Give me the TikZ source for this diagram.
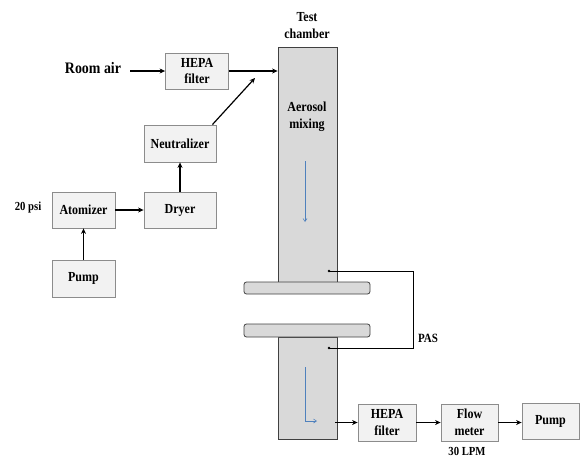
\documentclass[tikz,border=0pt]{standalone}
\usepackage{fontspec}
\newfontfamily\tb[FakeStretch=0.87]{Liberation Serif}
\usetikzlibrary{arrows.meta}
\definecolor{boxfill}{HTML}{F2F2F2}
\definecolor{boxline}{HTML}{8C8C8C}
\definecolor{chfill}{HTML}{D9D9D9}
\definecolor{chline}{HTML}{404040}
\definecolor{flowblue}{HTML}{4F81BD}
\tikzset{
  lbl/.style={font=\tb\bfseries\fontsize{13.8}{16.5}\selectfont, align=center, inner sep=0pt},
  smalllbl/.style={font=\tb\bfseries\fontsize{12.3}{14}\selectfont, inner sep=0pt},
  box/.style={lbl, draw=boxline, fill=boxfill, line width=0.8pt, minimum width=#1, minimum height=36pt},
  chamber/.style={draw=chline, fill=chfill, line width=0.8pt, minimum width=59pt, inner sep=0pt},
  plate/.style={draw=chline, fill=chfill, line width=0.8pt, rounded corners=2.5pt, minimum width=126pt, inner sep=0pt},
  arr/.style={line width=1.2pt, -{Stealth[length=5.5pt,width=5pt]}},
  bluearr/.style={draw=flowblue, line width=0.6pt, -{Straight Barb[length=3pt,width=4pt]}},
  pas/.style={line width=0.8pt}
}
\begin{document}
\begin{tikzpicture}[x=1pt,y=-1pt]
\useasboundingbox (0,0) rectangle (582,458);
% chamber
\node[chamber, minimum height=235pt] (chup) at (307.5,164.5) {};
\node[chamber, minimum height=102pt] (chlo) at (307.5,388) {};
\node[plate, minimum height=12pt] (plup) at (307,288) {};
\node[plate, minimum height=13pt] (pllo) at (307,330.5) {};
\node[lbl] (tc) at (307,25.5) {Test\\chamber};
\node[lbl] (am) at (307,116.5) {Aerosol\\mixing};
% blue flow arrows
\coordinate (b1) at (305,161);
\coordinate (b2) at (305,222);
\draw[bluearr] (b1) -- (b2);
\coordinate (b3) at (305,367);
\coordinate (b4) at (317,421);
\draw[bluearr] (b3) |- (b4);
% boxes
\node[box=63pt] (hepa1) at (197,71) {HEPA\\filter};
\node[box=72pt, minimum height=37pt] (neut) at (180,143.5) {Neutralizer};
\node[box=72pt] (dryer) at (180,210) {Dryer};
\node[box=63pt] (atom) at (83.5,210) {Atomizer};
\node[box=63pt, minimum height=37pt] (pump1) at (83.5,278.5) {Pump};
\node[box=58pt, minimum height=37pt] (hepa2) at (387,422.5) {HEPA\\filter};
\node[box=57pt, minimum height=37pt] (flow) at (469.5,422.5) {Flow\\meter};
\node[box=57pt] (pump2) at (550.5,421) {Pump};
% labels
\node[lbl, font=\tb\bfseries\fontsize{16}{18}\selectfont] (room) at (93,68) {Room air};
\node[smalllbl] (psi) at (28,208) {20 psi};
\node[smalllbl] (lpm) at (467,451) {30 LPM};
\node[smalllbl, font=\tb\bfseries\fontsize{12.6}{14}\selectfont] (pas) at (428,338) {PAS};
% connectors
\draw[arr] ([xshift=9pt]room.east |- hepa1.west) -- (hepa1.west);
\draw[arr] (hepa1.east) -- (hepa1.east -| chup.west);
\coordinate (merge) at (255,78);
\draw[arr] ([xshift=-4pt]neut.north east) -- (merge);
\draw[arr] (dryer.north) -- (neut.south);
\draw[arr] (atom.east) -- (dryer.west);
\draw[arr] (pump1.north) -- (atom.south);
\draw[arr] ([xshift=-2pt]chlo.east |- hepa2.west) -- (hepa2.west);
\draw[arr] (hepa2.east) -- (flow.west);
\draw[arr] (flow.east) -- (pump2.west |- flow.east);
% PAS loop
\coordinate (p1) at (329,271);
\coordinate (p2) at (329,348);
\coordinate (pc) at (413,271);
\draw[pas] (p1) -- (pc) |- (p2);
\fill (p1) circle (1.4pt);
\fill (p2) circle (1.4pt);
\end{tikzpicture}
\end{document}
